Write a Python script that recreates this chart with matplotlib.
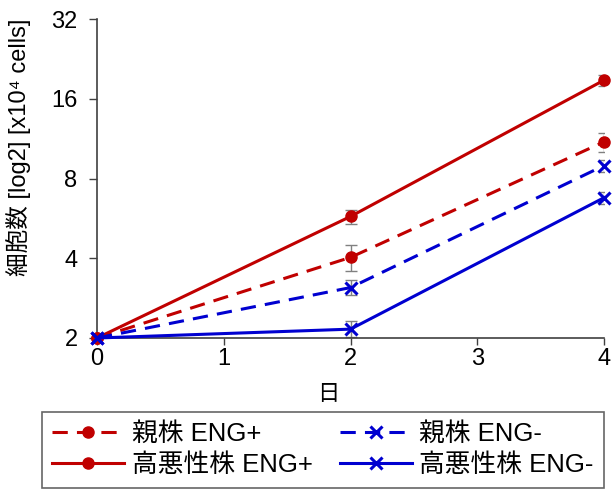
import matplotlib
matplotlib.use("Agg")
import matplotlib.pyplot as plt
from matplotlib.ticker import FixedLocator, FixedFormatter, NullLocator

plt.rcParams['font.family'] = ['Liberation Sans', 'Noto Sans CJK JP', 'DejaVu Sans']

days = [0, 2, 4]
labels = ['親株 ENG+', '高悪性株 ENG+', '親株 ENG-', '高悪性株 ENG-']
parent_pos = [2.0, 4.03, 11.0]
parent_pos_err = [0.0, 0.45, 0.9]
high_pos = [2.0, 5.75, 18.8]
high_pos_err = [0.0, 0.35, 0.85]
parent_neg = [2.0, 3.1, 8.95]
parent_neg_err = [0.0, 0.2, 0.45]
high_neg = [2.0, 2.16, 6.77]
high_neg_err = [0.0, 0.15, 0.35]
yticks = [2, 4, 8, 16, 32]
xticks = [0, 1, 2, 3, 4]

red = '#C00000'
blue = '#0000D0'
gray = '#808080'

fig = plt.figure(figsize=(6.15, 4.91), dpi=100)
ax = fig.add_axes([97/615, 1-338/491, (604-97)/615, (338-19)/491])
ax.set_yscale('log', base=2)

dash = (0, (5, 3))
series = [
    (parent_pos, parent_pos_err, red, dash, 'o'),
    (high_pos, high_pos_err, red, '-', 'o'),
    (parent_neg, parent_neg_err, blue, dash, 'x'),
    (high_neg, high_neg_err, blue, '-', 'x'),
]
handles = []
for (vals, err, col, ls, mk), lab in zip(series, labels):
    ax.errorbar(days, vals, yerr=err, fmt='none', ecolor=gray, elinewidth=1.0,
                capsize=4, capthick=1.0, zorder=2)
    h, = ax.plot(days, vals, color=col, linestyle=ls, linewidth=2.2, marker=mk,
                 markersize=8 if mk == 'o' else 9, markeredgewidth=2.2 if mk == 'x' else 1,
                 label=lab, zorder=3, clip_on=False)
    handles.append(h)

ax.set_xlim(0, 4)
ax.set_ylim(2, 32)
ax.yaxis.set_major_locator(FixedLocator(yticks))
ax.yaxis.set_major_formatter(FixedFormatter([str(t) for t in yticks]))
ax.yaxis.set_minor_locator(NullLocator())
ax.set_xticks(xticks)
ax.tick_params(axis='both', labelsize=17, direction='out', width=1, color='#404040')
ax.tick_params(axis='y', length=6, pad=8)
ax.tick_params(axis='x', length=5, pad=2)
for s in ['top', 'right']:
    ax.spines[s].set_visible(False)
for s in ['left', 'bottom']:
    ax.spines[s].set_color('#404040')
    ax.spines[s].set_linewidth(1.2)

ax.set_xlabel('日', fontsize=16)
ax.xaxis.set_label_coords((328-97)/507, (338-384)/319)
ax.set_ylabel('細胞数 [log2] [x10⁴ cells]', fontsize=17)
ax.yaxis.set_label_coords((31-97)/507, (338-147)/319)

leg = fig.legend(handles=handles, labels=labels, ncol=2, loc='upper left',
                 bbox_to_anchor=(42/615, 1-412/491), fontsize=18.5, frameon=True,
                 fancybox=False, edgecolor='#404040', handlelength=2.8,
                 handletextpad=0.3, columnspacing=1.05, borderpad=0.4,
                 labelspacing=0.28, borderaxespad=0)
leg.get_frame().set_linewidth(1.2)

fig.savefig('out.png', dpi=100)
